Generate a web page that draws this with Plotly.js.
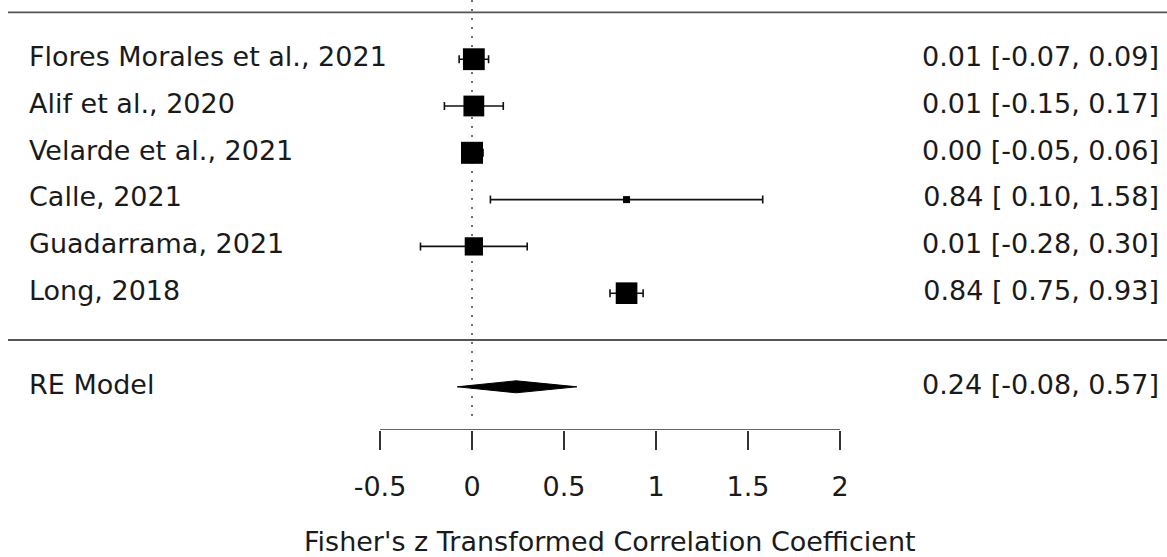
<!DOCTYPE html>
<html>
<head>
<meta charset="utf-8">
<script src="https://cdn.plot.ly/plotly-3.0.1.min.js"></script>
<style>
  html, body { margin: 0; padding: 0; background: #fff; }
  #chart { width: 1167px; height: 557px; }
</style>
</head>
<body>
<div id="chart"></div>
<script>
// ---- data ----
const studies = [
  "Flores Morales et al., 2021",
  "Alif et al., 2020",
  "Velarde et al., 2021",
  "Calle, 2021",
  "Guadarrama, 2021",
  "Long, 2018"
];
const estimates = [0.01, 0.01, 0.00, 0.84, 0.01, 0.84];
const ciLower   = [-0.07, -0.15, -0.05, 0.10, -0.28, 0.75];
const ciUpper   = [0.09, 0.17, 0.06, 1.58, 0.30, 0.93];
const weights   = [18.6, 18.0, 18.7, 9.9, 16.5, 18.5]; // estimated study weights (%)
const modelLabel = "RE Model";
const modelEst = 0.24;
const modelLower = -0.08;
const modelUpper = 0.57;
const tickValues = [-0.5, 0, 0.5, 1, 1.5, 2];
const tickLabels = ["-0.5", "0", "0.5", "1", "1.5", "2"];
const xTitle = "Fisher's z Transformed Correlation Coefficient";

// ---- layout helpers ----
const W = 1167, H = 557;
const pxPerUnit = 184, zeroPx = 472;
const xAt = px => (px - zeroPx) / pxPerUnit;
const rowPx = 46.8, sepPx = 340, axisPx = 430;
const yAt = px => (sepPx - px) / rowPx;

const k = studies.length;
const rows = studies.map((_, i) => k - i);
const modelRow = -1;

const fmt = v => v.toFixed(2);
const anyNeg = ciLower.concat([modelLower]).some(v => v < 0);
const padL = v => (anyNeg && v >= 0 ? " " : "") + fmt(v);
const rightText = estimates.map((e, i) => fmt(e) + " [" + padL(ciLower[i]) + ", " + fmt(ciUpper[i]) + "]");
const modelText = fmt(modelEst) + " [" + padL(modelLower) + ", " + fmt(modelUpper) + "]";

const wMin = Math.min(...weights), wMax = Math.max(...weights);
const sizes = weights.map(w => 7 + (w - wMin) / (wMax - wMin) * 15);

const font = {family: "DejaVu Sans, Liberation Sans, Arial, sans-serif", size: 27, color: "#1a1a1a"};
const diamondH = 6 / rowPx;

const traces = [
  {
    type: "scatter", mode: "markers",
    x: estimates, y: rows,
    marker: {symbol: "square", size: sizes, color: "#000", opacity: 1, line: {width: 0}},
    error_x: {
      type: "data", symmetric: false,
      array: estimates.map((e, i) => ciUpper[i] - e),
      arrayminus: estimates.map((e, i) => e - ciLower[i]),
      color: "#111", thickness: 1.6, width: 4
    },
    hoverinfo: "skip", showlegend: false
  },
  {
    type: "scatter", mode: "lines",
    x: [modelLower, modelEst, modelUpper, modelEst, modelLower],
    y: [modelRow, modelRow + diamondH, modelRow, modelRow - diamondH, modelRow],
    fill: "toself", fillcolor: "#000", line: {color: "#000", width: 1},
    hoverinfo: "skip", showlegend: false
  },
  {
    type: "scatter", mode: "text",
    x: studies.map(() => xAt(29)).concat([xAt(29)]),
    y: rows.concat([modelRow]),
    text: studies.concat([modelLabel]),
    textposition: "middle right", textfont: font,
    hoverinfo: "skip", showlegend: false, cliponaxis: false
  },
  {
    type: "scatter", mode: "text",
    x: rightText.map(() => xAt(1159)).concat([xAt(1159)]),
    y: rows.concat([modelRow]),
    text: rightText.concat([modelText]),
    textposition: "middle left", textfont: font,
    hoverinfo: "skip", showlegend: false, cliponaxis: false
  },
  {
    // axis line spanning the tick range only
    type: "scatter", mode: "lines",
    x: [tickValues[0], tickValues[tickValues.length - 1]],
    y: [yAt(axisPx), yAt(axisPx)],
    line: {color: "#333", width: 1.6},
    hoverinfo: "skip", showlegend: false, cliponaxis: false
  }
];

const layout = {
  width: W, height: H,
  margin: {l: 0, r: 0, t: 0, b: H - axisPx},
  paper_bgcolor: "#fff", plot_bgcolor: "#fff",
  font: font,
  showlegend: false,
  xaxis: {
    range: [xAt(0), xAt(W)],
    showgrid: false, zeroline: false, showline: false,
    tickmode: "array", tickvals: tickValues, ticktext: tickLabels,
    ticks: "outside", ticklen: 19, tickwidth: 1.6, tickcolor: "#333",
    tickfont: font, ticklabelstandoff: 14,
    fixedrange: true
  },
  yaxis: {
    range: [yAt(axisPx), yAt(0)],
    visible: false, showgrid: false, zeroline: false, fixedrange: true
  },
  annotations: [
    {
      // axis title, centred under the drawn axis span as in the reference
      text: xTitle, showarrow: false,
      xref: "x", x: (tickValues[0] + tickValues[tickValues.length - 1]) / 2,
      yref: "paper", y: -(541 - axisPx) / axisPx,
      xanchor: "center", yanchor: "middle", font: font
    }
  ],
  shapes: [
    {type: "line", xref: "paper", yref: "y", x0: 8 / W, x1: 1, y0: k + 1, y1: k + 1,
     line: {color: "#555", width: 1.8}},
    {type: "line", xref: "paper", yref: "y", x0: 8 / W, x1: 1, y0: 0, y1: 0,
     line: {color: "#555", width: 1.8}},
    {type: "line", xref: "x", yref: "y", x0: 0, x1: 0, y0: yAt(0), y1: yAt(420),
     line: {color: "#444", width: 1.5, dash: "2px,7px"}, layer: "below"}
  ]
};

Plotly.newPlot("chart", traces, layout, {staticPlot: true, displayModeBar: false});
</script>
</body>
</html>
